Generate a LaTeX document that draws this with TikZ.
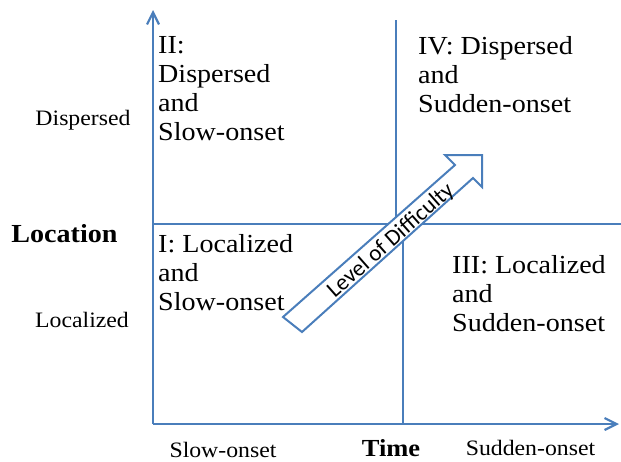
\documentclass[tikz,border=0pt]{standalone}
\usepackage{fontspec}
\setmainfont{Liberation Serif}[FakeStretch=1.08]
\newfontfamily\arrowfont{Carlito}
\usetikzlibrary{arrows.meta}
\definecolor{axisblue}{HTML}{4A7EBB}
\begin{document}
\begin{tikzpicture}[x=1pt,y=-1pt,
  axis/.style={draw=axisblue,line width=2.6pt,-{Straight Barb[length=12pt,width=12pt,line width=2.2pt]}},
  quad/.style={draw=axisblue,line width=2.2pt},
  bigarrow/.style={draw=axisblue,line width=2pt,fill=white,line join=miter},
  quadtext/.style={anchor=north west,inner sep=0pt,align=left,font=\rmfamily\fontsize{26}{29}\selectfont},
  sidelabel/.style={anchor=base,inner sep=0pt,font=\rmfamily\fontsize{22}{26}\selectfont},
  axistitle/.style={anchor=base,inner sep=0pt,font=\rmfamily\fontsize{26}{30}\selectfont\bfseries},
  arrowlabel/.style={inner sep=0pt,rotate=41.5,font=\arrowfont\fontsize{23}{27}\selectfont},
  ]
\useasboundingbox (0,0) rectangle (621,461);
% axes
\coordinate (O) at (153,424);
\coordinate (Ytop) at (153,10);
\coordinate (Xend) at (619,424);
\draw[axis] (O) -- (Ytop);
\draw[axis] (O) -- (Xend);
% quadrant lines
\coordinate (vTop) at (396,20);
\coordinate (vTopEnd) at (396,224);
\coordinate (vBotStart) at (403,224);
\coordinate (vBot) at (403,424);
\coordinate (hL) at (153,224);
\coordinate (hR) at (621,224);
\draw[quad] (vTop) -- (vTopEnd);
\draw[quad] (vBotStart) -- (vBot);
\draw[quad] (hL) -- (hR);
% big arrow
\coordinate (a1) at (283,317);
\coordinate (a2) at (455,165);
\coordinate (a3) at (445,155);
\coordinate (a4) at (482,155);
\coordinate (a5) at (482,187);
\coordinate (a6) at (473,178);
\coordinate (a7) at (302,332);
\draw[bigarrow] (a1) -- (a2) -- (a3) -- (a4) -- (a5) -- (a6) -- (a7) -- cycle;
\node[arrowlabel] (lod) at (391,241) {Level of Difficulty};
% quadrant texts
\node[quadtext] (q2) at (158,36.5) {II:\\Dispersed\\and\\Slow-onset};
\node[quadtext] (q4) at (418,36) {IV: Dispersed\\and\\Sudden-onset};
\node[quadtext] (q1) at (158,234.5) {I: Localized\\and\\Slow-onset};
\node[quadtext] (q3) at (452,255.5) {III: Localized\\and\\Sudden-onset};
% axis labels
\node[sidelabel] (disp) at (83,125) {Dispersed};
\node[sidelabel] (loc) at (82,327) {Localized};
\node[axistitle] (location) at (64.5,242.7) {Location};
\node[axistitle,font=\rmfamily\fontsize{24.5}{30}\selectfont\bfseries] (time) at (391,456.7) {Time};
\node[sidelabel] (slow) at (223,457) {Slow-onset};
\node[sidelabel] (sudden) at (530.5,455) {Sudden-onset};
\end{tikzpicture}
\end{document}
